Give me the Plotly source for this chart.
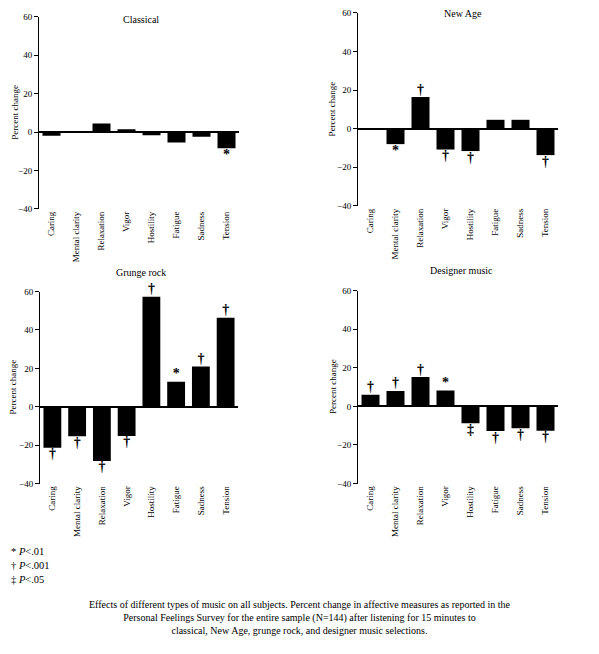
import plotly.graph_objects as go
from plotly.subplots import make_subplots

# ---- data ----
measures = ["Caring", "Mental clarity", "Relaxation", "Vigor",
            "Hostility", "Fatigue", "Sadness", "Tension"]

panel_titles = ["Classical", "New Age", "Grunge rock", "Designer music"]

classical = [-2.0, 0.0, 4.4, 1.4, -1.7, -5.5, -2.5, -8.4]
new_age = [0.0, -8.0, 16.4, -10.8, -11.6, 4.6, 4.6, -13.7]
grunge = [-21.4, -15.4, -28.2, -15.2, 57.3, 13.0, 21.0, 46.3]
designer = [6.0, 8.0, 15.2, 8.2, -8.7, -12.8, -11.3, -12.6]

sig_classical = ["", "", "", "", "", "", "", "*"]
sig_new_age = ["", "*", "†", "†", "†", "", "", "†"]
sig_grunge = ["†", "†", "†", "†", "†", "*", "†", "†"]
sig_designer = ["†", "†", "†", "*", "‡", "†", "†", "†"]

y_ticks = [-40, -20, 0, 20, 40, 60]

FONT = "Liberation Serif"
W, H = 599, 654

panels = [
    (classical, sig_classical, 1, 1),
    (new_age, sig_new_age, 1, 2),
    (grunge, sig_grunge, 2, 1),
    (designer, sig_designer, 2, 2),
]

# pixel boxes of each plot area (left, right, top, bottom)
boxes = [(39, 239, 12, 207), (358, 558, 8, 204),
         (40, 238, 291, 486), (358, 558, 290, 486)]
title_pos = [(141, 15), (463, 9), (141, 272), (461, 270)]
ylab_x = [15, 332, 13, 333]


def px(x):
    return x / W


def py(y):
    return 1 - y / H


fig = make_subplots(rows=2, cols=2)

for (vals, sig, r, c) in panels:
    fig.add_trace(go.Bar(x=measures, y=vals, marker=dict(color="black", line=dict(width=0)),
                         width=0.72, showlegend=False, hoverinfo="skip"), row=r, col=c)
    # significance marks above positive / below negative bars
    pos = [i for i, v in enumerate(vals) if v >= 0 and sig[i]]
    neg = [i for i, v in enumerate(vals) if v < 0 and sig[i]]
    for idx, where in ((pos, "top center"), (neg, "bottom center")):
        fig.add_trace(go.Scatter(x=[measures[i] for i in idx], y=[vals[i] for i in idx],
                                 text=[sig[i] for i in idx], mode="text", textposition=where,
                                 textfont=dict(family=FONT, size=14, color="black", weight="bold"),
                                 marker=dict(color="black"), hoverinfo="skip",
                                 cliponaxis=False, showlegend=False), row=r, col=c)

for k, (l, rgt, t, b) in enumerate(boxes):
    xa = "xaxis" if k == 0 else f"xaxis{k + 1}"
    ya = "yaxis" if k == 0 else f"yaxis{k + 1}"
    fig.layout[xa].update(domain=[px(l), px(rgt)], showline=False, ticks="",
                          tickangle=-90, showgrid=False, zeroline=False,
                          tickfont=dict(family=FONT, size=9, color="black"))
    fig.layout[ya].update(domain=[py(b), py(t)], range=[-40, 60],
                          tickvals=y_ticks, ticks="outside", ticklen=4, tickwidth=1,
                          tickcolor="black", showline=True, linecolor="black", linewidth=1,
                          showgrid=False, zeroline=True, zerolinecolor="black", zerolinewidth=1.5,
                          tickfont=dict(family=FONT, size=9, color="black"))
    tx, ty = title_pos[k]
    fig.add_annotation(text=panel_titles[k], x=px(tx), y=py(ty), xref="paper", yref="paper",
                       xanchor="center", yanchor="middle", showarrow=False,
                       font=dict(family=FONT, size=10, color="black"))
    fig.add_annotation(text="Percent change", x=px(ylab_x[k]), y=py((t + b) / 2),
                       xref="paper", yref="paper", textangle=-90,
                       xanchor="center", yanchor="middle", showarrow=False,
                       font=dict(family=FONT, size=9, color="black"))

# key for the significance marks
key = ["* <i>P</i>&lt;.01", "† <i>P</i>&lt;.001", "‡ <i>P</i>&lt;.05"]
for i, line in enumerate(key):
    fig.add_annotation(text=line, x=px(9), y=py(555 + 14 * i), xref="paper", yref="paper",
                       xanchor="left", yanchor="middle", showarrow=False,
                       font=dict(family=FONT, size=10.5, color="black"))

caption = ("Effects of different types of music on all subjects. Percent change in affective measures as reported in the<br>"
           "Personal Feelings Survey for the entire sample (N=144) after listening for 15 minutes to<br>"
           "classical, New Age, grunge rock, and designer music selections.")
fig.add_annotation(text=caption, x=px(300), y=py(622), xref="paper", yref="paper",
                   xanchor="center", yanchor="middle", showarrow=False, align="center",
                   font=dict(family=FONT, size=10, color="black"))

fig.update_layout(width=W, height=H, margin=dict(l=0, r=0, t=0, b=0),
                  plot_bgcolor="white", paper_bgcolor="white", bargap=0.28,
                  hovermode=False)

# drop the default page margin so the figure sits at the window corner
fig.write_html("out.html", config={"displayModeBar": False},
               post_script="document.body.style.margin='0';")
